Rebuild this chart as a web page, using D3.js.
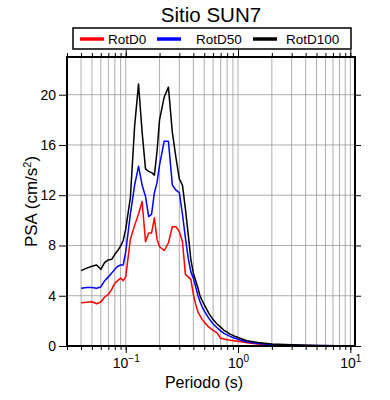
<!DOCTYPE html>
<html>
<head>
<meta charset="utf-8">
<script src="https://cdn.jsdelivr.net/npm/d3@7"></script>
<style>
    body { margin: 0; background: #fff; }
    svg { font-family: "Liberation Sans", Arial, Helvetica, sans-serif; }
</style>
</head>
<body>
<div id="chart"></div>
<script>
// periods (s)
const periods = [0.04, 0.045, 0.05, 0.055, 0.06, 0.065, 0.07, 0.075, 0.08, 0.085, 0.09, 0.095,
    0.10, 0.11, 0.12, 0.13, 0.14, 0.15, 0.16, 0.17, 0.18, 0.19, 0.20, 0.22, 0.24, 0.26, 0.28, 0.30,
    0.32, 0.34, 0.36, 0.38, 0.40, 0.42, 0.44, 0.46, 0.48, 0.50, 0.55, 0.60, 0.65, 0.70, 0.75, 0.80,
    0.85, 0.90, 0.95, 1.0, 1.2, 1.5, 2.0, 3.0, 4.0, 5.0, 7.5, 10];

const rotD0 = [3.45, 3.48, 3.52, 3.36, 3.5, 3.9, 4.1, 4.5, 5.0, 5.2, 5.4, 5.2,
    5.5, 8.5, 9.6, 10.5, 11.5, 8.3, 9.0, 9.0, 10.2, 8.5, 7.9, 7.6, 8.2, 9.5, 9.5, 9.1,
    8.3, 5.7, 5.5, 5.3, 4.1, 3.3, 2.7, 2.4, 2.1, 1.9, 1.5, 1.25, 1.05, 0.62, 0.56, 0.5,
    0.46, 0.43, 0.4, 0.37, 0.25, 0.15, 0.09, 0.05, 0.03, 0.02, 0.01, 0.008];

const rotD50 = [4.6, 4.65, 4.65, 4.6, 4.7, 5.2, 5.5, 5.8, 6.1, 6.35, 6.45, 6.45,
    7.5, 10.5, 12.8, 14.3, 12.8, 11.9, 10.3, 10.5, 12.2, 13.0, 14.4, 16.3, 16.3, 12.8, 12.4, 12.2,
    10.5, 8.6, 7.0, 5.9, 5.4, 4.7, 4.0, 3.5, 3.1, 2.8, 2.2, 1.75, 1.45, 1.2, 1.0, 0.88,
    0.77, 0.68, 0.6, 0.53, 0.32, 0.2, 0.12, 0.07, 0.045, 0.03, 0.015, 0.01];

const rotD100 = [6.0, 6.2, 6.35, 6.45, 6.1, 6.65, 6.85, 6.9, 7.3, 7.6, 7.95, 8.4,
    9.3, 11.8, 17.5, 20.85, 17.0, 14.1, 13.9, 13.8, 13.6, 15.5, 18.0, 19.8, 20.6, 17.0, 15.0, 13.3,
    12.8, 10.9, 8.9, 6.9, 5.8, 5.2, 4.6, 3.95, 3.6, 3.3, 2.6, 2.1, 1.75, 1.5, 1.25, 1.1,
    0.95, 0.85, 0.75, 0.68, 0.42, 0.27, 0.16, 0.09, 0.06, 0.04, 0.02, 0.015];

const seriesNames = ["RotD0", "RotD50", "RotD100"];
const seriesColors = ["#ff0000", "#0000ff", "#000000"];
const yTicks = [0, 4, 8, 12, 16, 20];
const xMajor = [0.1, 1, 10];
const xMajorExp = ["\u22121", "0", "1"];

let series = [rotD0, rotD50, rotD100].map((vals, i) => {
    return { name: seriesNames[i], color: seriesColors[i],
        points: vals.map((v, j) => { return { t: periods[j], v: v }; }) };
});

let margin = {top: 57, right: 35, bottom: 54, left: 67},
    totalW = 390, totalH = 400,
    width = totalW - margin.left - margin.right,
    height = totalH - margin.top - margin.bottom;

let svg = d3.select("#chart").append("svg")
    .attr("width", totalW)
    .attr("height", totalH);

let g = svg.append("g").attr("transform", "translate(" + margin.left + "," + margin.top + ")");

let xScale = d3.scaleLog().domain([0.03, 11]).range([0, width]);
let yScale = d3.scaleLinear().domain([0, 23]).range([height, 0]);

// minor tick positions (1..9 per decade) inside domain
let minorTicks = [];
[0.01, 0.1, 1, 10].forEach((dec) => {
    for (let k = 1; k <= 9; k++) {
        let t = dec * k;
        if (t >= 0.03 && t <= 11) minorTicks.push(+t.toPrecision(3));
    }
});

// grid
g.append("g").selectAll("line.vg")
    .data(minorTicks)
    .enter().append("line")
    .attr("x1", (d) => xScale(d)).attr("x2", (d) => xScale(d))
    .attr("y1", 0).attr("y2", height)
    .attr("stroke", "#999").attr("stroke-width", 0.8);

g.append("g").selectAll("line.hg")
    .data(yTicks.slice(1))
    .enter().append("line")
    .attr("x1", 0).attr("x2", width)
    .attr("y1", (d) => yScale(d)).attr("y2", (d) => yScale(d))
    .attr("stroke", "#999").attr("stroke-width", 0.8);

// axes
let styleAxis = (sel) => {
    sel.select(".domain").remove();
    sel.selectAll("line").attr("stroke", "#000").attr("stroke-width", 1);
    sel.selectAll("text").attr("fill", "#000").style("font-size", "14px");
};

// bottom minor + major
g.append("g")
    .attr("transform", "translate(0," + height + ")")
    .call(d3.axisBottom(xScale).tickValues(minorTicks).tickSize(4).tickFormat(""))
    .call(styleAxis);

let xb = g.append("g")
    .attr("transform", "translate(0," + height + ")")
    .call(d3.axisBottom(xScale).tickValues(xMajor).tickSize(7).tickPadding(6).tickFormat(""))
    .call(styleAxis);

xb.selectAll(".tick").append("text")
    .attr("y", 22)
    .attr("text-anchor", "middle")
    .attr("fill", "#000")
    .style("font-size", "14px")
    .each(function(d, i) {
        let t = d3.select(this);
        t.append("tspan").text("10");
        t.append("tspan").attr("dy", -6).style("font-size", "10px").text(xMajorExp[i]);
    });

// top ticks
g.append("g")
    .call(d3.axisTop(xScale).tickValues(minorTicks).tickSize(4).tickFormat(""))
    .call(styleAxis);
g.append("g")
    .call(d3.axisTop(xScale).tickValues(xMajor).tickSize(7).tickFormat(""))
    .call(styleAxis);

// left axis
g.append("g")
    .call(d3.axisLeft(yScale).tickValues(yTicks).tickSize(8).tickPadding(3))
    .call(styleAxis);

// right ticks
g.append("g")
    .attr("transform", "translate(" + width + ",0)")
    .call(d3.axisRight(yScale).tickValues(yTicks).tickSize(6).tickFormat(""))
    .call(styleAxis);

// curves
let line = d3.line()
    .x((d) => xScale(d.t))
    .y((d) => yScale(d.v));

g.selectAll("path.curve")
    .data(series)
    .enter().append("path")
    .attr("class", "curve")
    .attr("fill", "none")
    .attr("stroke", (d) => d.color)
    .attr("stroke-width", 1.5)
    .attr("stroke-linejoin", "round")
    .attr("d", (d) => line(d.points));

// frame
g.append("rect")
    .attr("width", width).attr("height", height)
    .attr("fill", "none").attr("stroke", "#000").attr("stroke-width", 2);

// title
svg.append("text")
    .attr("x", margin.left + width / 2)
    .attr("y", 22)
    .attr("text-anchor", "middle")
    .style("font-size", "20.5px")
    .text("Sitio SUN7");

// legend
let lg = svg.append("g").attr("transform", "translate(73,28)");
lg.append("rect")
    .attr("width", 278).attr("height", 21)
    .attr("fill", "#fff").attr("stroke", "#000").attr("stroke-width", 1.5);

let legendX = [7, 84, 180];
let legendTextX = [35, 123, 213];
series.forEach((s, i) => {
    lg.append("line")
        .attr("x1", legendX[i]).attr("x2", legendX[i] + 24)
        .attr("y1", 11).attr("y2", 11)
        .attr("stroke", s.color).attr("stroke-width", 3.5);
    lg.append("text")
        .attr("x", legendTextX[i])
        .attr("y", 15.5)
        .style("font-size", "13.5px")
        .text(s.name);
});

// axis labels
svg.append("text")
    .attr("x", margin.left + 137)
    .attr("y", 388)
    .attr("text-anchor", "middle")
    .style("font-size", "16px")
    .text("Periodo (s)");

let yl = svg.append("text")
    .attr("transform", "rotate(-90)")
    .attr("x", -(margin.top + height / 2))
    .attr("y", 37)
    .attr("text-anchor", "middle")
    .style("font-size", "17px");
yl.append("tspan").text("PSA (cm/s");
yl.append("tspan").attr("dy", -6).style("font-size", "11px").text("2");
yl.append("tspan").attr("dy", 6).text(")");
</script>
</body>
</html>
